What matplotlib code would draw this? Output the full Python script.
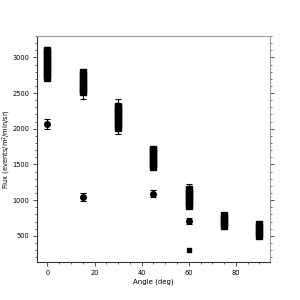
import matplotlib
matplotlib.use("Agg")
import matplotlib.pyplot as plt
from matplotlib.ticker import MultipleLocator

# Dense measurement columns (square markers) at each angle
col0 = [2715, 2755, 2795, 2835, 2875, 2915, 2955, 2995, 3035, 3075, 3110]
col0_err = [30] * 11
col15 = [2510, 2550, 2590, 2630, 2670, 2710, 2750, 2800]
col15_err = [90, 30, 30, 30, 30, 30, 30, 30]
col30 = [2015, 2055, 2095, 2135, 2175, 2215, 2255, 2290, 2320]
col30_err = [90, 30, 30, 30, 30, 30, 30, 30, 95]
col45 = [1460, 1500, 1540, 1580, 1620, 1660, 1700, 1720]
col45_err = [30] * 8
col60 = [920, 960, 1000, 1040, 1080, 1120, 1150]
col60_err = [30, 30, 30, 30, 30, 30, 80]
col75 = [640, 680, 720, 760, 785]
col75_err = [30] * 5
col90 = [500, 540, 580, 620, 670]
col90_err = [30] * 5

columns = [(0, col0, col0_err), (15, col15, col15_err), (30, col30, col30_err),
           (45, col45, col45_err), (60, col60, col60_err), (75, col75, col75_err),
           (90, col90, col90_err)]

# Single points (circle markers)
pt_angles = [0, 15, 45, 60]
pt_flux = [2062, 1042, 1090, 706]
pt_err = [70, 52, 45, 42]

# Single square point
sq_angle = [60]
sq_flux = [304]

fig = plt.figure(figsize=(3, 3), dpi=100)
ax = fig.add_axes([0.123, 0.126, 0.777, 0.754])

for ang, vals, errs in columns:
    ax.errorbar([ang] * len(vals), vals, yerr=errs, fmt='s', color='black',
                markersize=4.8, capsize=2, elinewidth=0.8, capthick=0.8)

ax.errorbar(pt_angles, pt_flux, yerr=pt_err, fmt='o', color='black',
            markersize=4, capsize=2, elinewidth=0.8, capthick=0.8)
ax.plot(sq_angle, sq_flux, 's', color='black', markersize=3.5)

ax.set_xlim(-4.5, 94.5)
ax.set_ylim(130, 3300)
ax.xaxis.set_major_locator(MultipleLocator(20))
ax.xaxis.set_minor_locator(MultipleLocator(5))
ax.yaxis.set_major_locator(MultipleLocator(500))
ax.yaxis.set_minor_locator(MultipleLocator(100))
ax.tick_params(which='both', labelsize=4.8, direction='out', right=True,
               colors='#333333', labelcolor='black', pad=2.5)
ax.tick_params(which='major', length=3, width=0.6)
ax.tick_params(which='minor', length=1.5, width=0.5)

for s in ['left', 'bottom']:
    ax.spines[s].set_color('#333333')
    ax.spines[s].set_linewidth(0.8)
for s in ['top', 'right']:
    ax.spines[s].set_color('#999999')
    ax.spines[s].set_linewidth(0.8)

ax.set_xlabel('Angle (deg)', fontsize=5, labelpad=2)
ax.set_ylabel('Flux (events/m$^2$/min/sr)', fontsize=4.8)
ax.yaxis.set_label_coords(-0.103, 0.5)

fig.savefig('out.png', dpi=100)
